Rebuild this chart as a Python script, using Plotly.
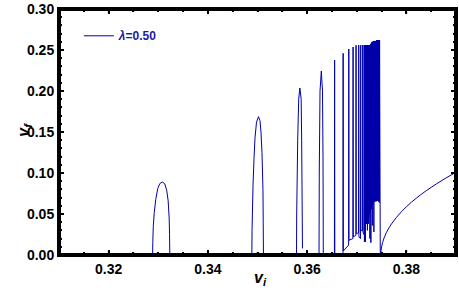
import plotly.graph_objects as go

# ---- data (v_i -> v_f), one list pair per window ----
w1_v = [0.32887, 0.3289, 0.3290, 0.3292, 0.3295, 0.3299, 0.3303, 0.3308, 0.3313, 0.3317, 0.3320, 0.3322, 0.33228, 0.33233]
w1_vf = [0.0, 0.015, 0.035, 0.052, 0.068, 0.081, 0.087, 0.089, 0.087, 0.079, 0.066, 0.045, 0.025, 0.0]

w2_v = [0.34886, 0.3489, 0.3491, 0.3493, 0.3495, 0.3498, 0.3502, 0.3505, 0.3507, 0.3509, 0.3511, 0.35115, 0.3512]
w2_vf = [0.0, 0.03, 0.085, 0.118, 0.143, 0.162, 0.1687, 0.164, 0.150, 0.125, 0.08, 0.04, 0.0]

w3_v = [0.35786, 0.3579, 0.3581, 0.3583, 0.35854, 0.3588, 0.3589, 0.3590, 0.35906]
w3_vf = [0.0, 0.05, 0.14, 0.19, 0.2037, 0.19, 0.14, 0.06, 0.008]

w4_v = [0.3624, 0.36245, 0.3626, 0.36286, 0.3631, 0.3632, 0.36326]
w4_vf = [0.0, 0.10, 0.20, 0.2244, 0.20, 0.12, 0.0]

w5_v = [0.36550, 0.36554, 0.36558]
w5_vf = [0.0, 0.2378, 0.0]

spikes_v = [0.36722, 0.36726, 0.3673,
            0.36836, 0.3684, 0.36844,
            0.36922, 0.36926, 0.3693,
            0.36982, 0.36986, 0.3699,
            0.37036, 0.3704, 0.37044,
            0.37076, 0.3708, 0.37084,
            0.37116, 0.3712, 0.37124,
            0.37146, 0.3715, 0.37155]
spikes_vf = [0.0, 0.246, 0.005,
             0.012, 0.2512, 0.018,
             0.020, 0.2537, 0.022,
             0.024, 0.2557, 0.026,
             0.027, 0.256, 0.022,
             0.020, 0.256, 0.030,
             0.030, 0.256, 0.028,
             0.025, 0.256, 0.016]

dense_v = [0.3716, 0.37165, 0.3717, 0.37175, 0.3718, 0.37185, 0.3719, 0.37195,
           0.3720, 0.37205, 0.3721, 0.37215, 0.3722, 0.37225, 0.3723, 0.37235,
           0.3724, 0.37245, 0.3725, 0.37255, 0.3726, 0.37265, 0.3727, 0.37275,
           0.3728, 0.37285, 0.3729, 0.37295, 0.3730, 0.37305, 0.3731, 0.37315,
           0.3732, 0.37325, 0.3733, 0.37335, 0.3734, 0.37345, 0.3735, 0.37355,
           0.3736, 0.37365, 0.3737, 0.37375, 0.3738, 0.37385, 0.3739, 0.37395,
           0.3740, 0.37405, 0.3741, 0.37415, 0.3742, 0.37425, 0.3743, 0.37435,
           0.3744, 0.37445, 0.3745, 0.37455, 0.3746, 0.37474]
dense_vf = [0.256, 0.039, 0.256, 0.016, 0.256, 0.040, 0.256, 0.038,
            0.256, 0.042, 0.256, 0.030, 0.256, 0.045, 0.256, 0.038,
            0.256, 0.046, 0.256, 0.050, 0.256, 0.020, 0.256, 0.052,
            0.257, 0.015, 0.258, 0.056, 0.259, 0.060, 0.260, 0.036,
            0.260, 0.062, 0.260, 0.064, 0.261, 0.028, 0.261, 0.065,
            0.261, 0.066, 0.261, 0.066, 0.261, 0.065, 0.261, 0.067,
            0.262, 0.066, 0.261, 0.066, 0.262, 0.067, 0.262, 0.066,
            0.262, 0.065, 0.262, 0.064, 0.262, 0.0]

tail_v = [0.37486, 0.3749, 0.3750, 0.3752, 0.3755, 0.3760, 0.3765, 0.3770, 0.3780,
          0.3790, 0.3800, 0.3810, 0.3820, 0.3830, 0.3840, 0.3850, 0.3860, 0.3870,
          0.3880, 0.3890, 0.3900]
tail_vf = [0.0, 0.0052, 0.0097, 0.0151, 0.0207, 0.0277, 0.0332, 0.0379, 0.0459,
           0.0527, 0.0588, 0.0643, 0.0693, 0.0740, 0.0784, 0.0825, 0.0865, 0.0903,
           0.0940, 0.0975, 0.1008]

x_range = [0.31, 0.39]
y_range = [0.0, 0.30]
x_major_step, x_minor_step = 0.02, 0.005
y_major_step, y_minor_step = 0.05, 0.01
series_name = "<b><i>λ</i>=0.50</b>"
x_title = "<b><i>v</i><sub><i>i</i></sub></b>"
y_title = "<b><i>v</i><sub><i>f</i></sub></b>"

segments = [(w1_v, w1_vf), (w2_v, w2_vf), (w3_v, w3_vf), (w4_v, w4_vf),
            (w5_v, w5_vf), (spikes_v + dense_v, spikes_vf + dense_vf), (tail_v, tail_vf)]
xs, ys = [], []
for sv, sf in segments:
    if xs:
        xs.append(None)
        ys.append(None)
    xs += sv
    ys += sf

BLUE = "#0000AA"
FONT = "Liberation Sans, Arial, sans-serif"

fig = go.Figure()
fig.add_trace(go.Scatter(x=xs, y=ys, mode="lines", name=series_name,
                         line=dict(color=BLUE, width=1, simplify=False)))

# ---- frame and inside ticks (Mathematica-style), drawn in axis coordinates ----
x0, x1 = x_range
y0, y1 = y_range
n_xm = int(round((x1 - x0) / x_minor_step))
n_ym = int(round((y1 - y0) / y_minor_step))
x_minor = [x0 + k * x_minor_step for k in range(1, n_xm)]
y_minor = [y0 + k * y_minor_step for k in range(1, n_ym)]
x_is_major = [abs(((v - 0.32) / x_major_step) - round((v - 0.32) / x_major_step)) < 1e-6 for v in x_minor]
y_is_major = [abs((v / y_major_step) - round(v / y_major_step)) < 1e-6 for v in y_minor]
px_x = (x1 - x0) / 398.0   # data units per pixel, x
px_y = (y1 - y0) / 246.0   # data units per pixel, y

tx, ty = [], []
for v, major in zip(x_minor, x_is_major):
    L = (5 if major else 3) * px_y
    tx += [v, v, None, v, v, None]
    ty += [y0, y0 + L, None, y1, y1 - L, None]
for v, major in zip(y_minor, y_is_major):
    L = (5 if major else 3) * px_x
    tx += [x0, x0 + L, None, x1, x1 - L, None]
    ty += [v, v, None, v, v, None]
fig.add_trace(go.Scatter(x=tx, y=ty, mode="lines", showlegend=False, hoverinfo="skip",
                         line=dict(color="black", width=1.5)))
fig.add_trace(go.Scatter(x=[x0, x1, x1, x0, x0], y=[y0, y0, y1, y1, y0], mode="lines",
                         showlegend=False, hoverinfo="skip",
                         line=dict(color="black", width=4)))

common = dict(showline=True, linewidth=2, linecolor="black", mirror="allticks",
              ticks="inside", ticklen=5, tickwidth=1.5, tickcolor="black",
              showgrid=False, zeroline=False, automargin=False, tickformat=".2f",
              tickfont=dict(family=FONT, size=14, color="black", weight="bold"))

fig.update_xaxes(range=x_range, tick0=0.32, dtick=x_major_step,
                 minor=dict(dtick=x_minor_step, ticks="inside", ticklen=3, tickcolor="black"),
                 **common)
fig.update_yaxes(range=y_range, tick0=0, dtick=y_major_step,
                 minor=dict(dtick=y_minor_step, ticks="inside", ticklen=3, tickcolor="black"),
                 **common)

fig.add_annotation(text=x_title, xref="paper", yref="paper", x=0.5075, y=-0.142,
                   showarrow=False, font=dict(family=FONT, size=16, color="black"))
fig.add_annotation(text=y_title, xref="paper", yref="paper", x=-0.118, y=0.508,
                   textangle=-90, showarrow=False, font=dict(family=FONT, size=16, color="black"))

fig.update_layout(
    width=459, height=302,
    margin=dict(l=59, r=3, t=9, b=47, autoexpand=False),
    plot_bgcolor="white", paper_bgcolor="white",
    showlegend=True,
    legend=dict(x=0.05, y=0.95, xanchor="left", yanchor="top",
                bgcolor="rgba(0,0,0,0)",
                font=dict(family=FONT, size=12, color="#1a1aa6")),
)

fig.write_html("out.html", config={"displayModeBar": False},
               post_script="document.body.style.margin='0px';document.body.style.overflow='hidden';")
